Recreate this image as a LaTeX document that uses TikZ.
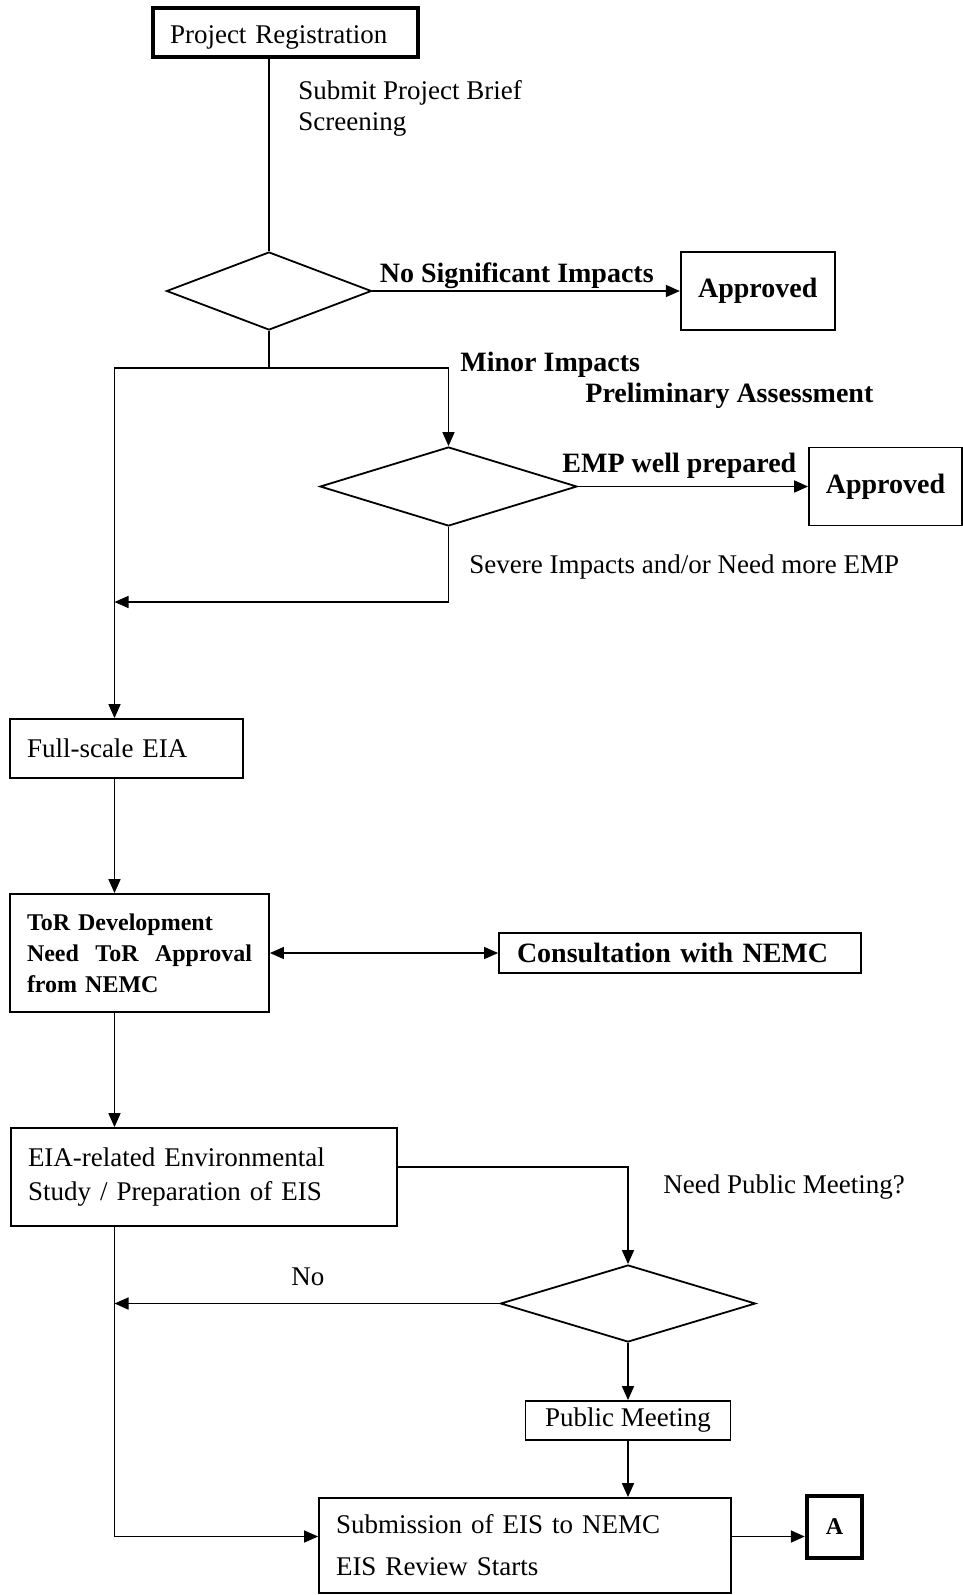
\documentclass[tikz,border=0pt]{standalone}
\usepackage{fontspec}
\setmainfont{Liberation Serif}
\usetikzlibrary{arrows.meta,shapes.geometric}

\begin{document}
\begin{tikzpicture}[x=0.5pt, y=-0.5pt,
    lbl/.style={inner sep=0pt, font=\fontsize{13.5}{15.5}\selectfont},
    lblb/.style={inner sep=0pt, font=\fontsize{14}{15.5}\selectfont\bfseries},
    box/.style={draw, line width=0.9pt, inner sep=0pt, font=\fontsize{13.5}{15.5}\selectfont},
    boldbox/.style={box, font=\fontsize{14}{15.5}\selectfont\bfseries},
    leftbox/.style={box, align=left, inner xsep=8.5pt},
    dec/.style={draw, diamond, line width=0.9pt, inner sep=0pt},
    line/.style={line width=0.8pt},
    arr/.style={line, -{Triangle[length=7pt,width=6pt]}},
    dbl/.style={line, {Triangle[length=7pt,width=6pt]}-{Triangle[length=7pt,width=6pt]}}]
    \useasboundingbox (0,0) rectangle (963,1595);

    \node[leftbox, line width=1.6pt, text width=115.5pt, text height=11pt, text depth=0pt, minimum height=24.5pt] (reg) at (285.5,32.5) {Project Registration};
    \node[dec, minimum width=102.5pt, minimum height=39pt] (screen) at (269,291) {};
    \node[boldbox, minimum width=77pt, minimum height=39pt] (ok1) at (757.75,291) {Approved};
    \node[dec, minimum width=128.5pt, minimum height=39.5pt] (prelim) at (448.5,486.5) {};
    \node[boldbox, minimum width=76.5pt, minimum height=39pt] (ok2) at (885.5,486.5) {Approved};
    \node[leftbox, text width=99.5pt, minimum height=29.5pt] (full) at (126.5,748.5) {Full-scale EIA};
    \node[leftbox, font=\fontsize{12}{15.5}\selectfont\bfseries, text width=112.5pt, minimum height=59pt] (tor) at (139.5,953) {ToR Development\\Need\hfill ToR\hfill Approval\\from NEMC};
    \node[leftbox, font=\fontsize{14}{15.5}\selectfont\bfseries, inner xsep=9pt, text width=163pt, minimum height=20pt] (consult) at (680,953) {Consultation with NEMC};
    \node[leftbox, font=\fontsize{13.5}{17}\selectfont, text width=176pt, minimum height=49pt] (study) at (204,1177) {EIA-related Environmental\\Study / Preparation of EIS};
    \node[dec, minimum width=127.5pt, minimum height=38.5pt] (meet) at (628,1303.5) {};
    \node[box, minimum width=102.5pt, minimum height=19.5pt] (pub) at (628,1420.5) {Public Meeting};
    \node[leftbox, font=\fontsize{13.5}{21}\selectfont, text width=189pt, minimum height=47.5pt] (submit) at (525,1545.5) {Submission of EIS to NEMC\\EIS Review Starts};
    \node[draw, line width=2.2pt, inner sep=0pt, font=\fontsize{12}{14}\selectfont\bfseries, minimum width=27.5pt, minimum height=31pt] (sq) at (834.5,1527) {A};

    \node[lbl, anchor=west, align=left] (brief) at (298,108) {Submit Project Brief\\Screening};
    \node[lblb, anchor=base west] (nosig) at (379.5,282) {No Significant Impacts};
    \node[lblb, anchor=base west] (minor) at (460,371.5) {Minor Impacts};
    \node[lblb, anchor=base west] (pretxt) at (585,402.5) {Preliminary Assessment};
    \node[lblb, anchor=base west] (emp) at (562,472.5) {EMP well prepared};
    \node[lbl, anchor=base west] (severe) at (469,573) {Severe Impacts and/or Need more EMP};
    \node[lbl, anchor=base west] (needpm) at (663,1193) {Need Public Meeting?};
    \node[lbl, anchor=base west] (no) at (291,1285) {No};

    \coordinate (fork) at (269,368);
    \coordinate (trunk) at (114.5,368);
    \coordinate (back) at (114.5,602);
    \coordinate (noback) at (114.5,1303.5);

    \draw[line] (reg.south -| screen.north) -- (screen.north);
    \draw[arr] (screen.east) -- (ok1.west);
    \draw[line] (screen.south) -- (fork);
    \draw[arr] (fork) -| (prelim.north);
    \draw[arr] (fork) -- (trunk) -- (trunk |- full.north);
    \draw[arr] (prelim.east) -- (ok2.west);
    \draw[arr] (prelim.south) |- (back);
    \draw[arr] (trunk |- full.south) -- (trunk |- tor.north);
    \draw[dbl] (tor) -- (consult);
    \draw[arr] (trunk |- tor.south) -- (trunk |- study.north);
    \draw[arr] ([yshift=5pt]study.east) -| (meet.north);
    \draw[arr] (meet.west) -- (noback);
    \draw[arr] (meet.south) -- (pub.north);
    \draw[arr] (pub.south) -- (pub.south |- submit.north);
    \draw[arr] (trunk |- study.south) |- ([yshift=4.5pt]submit.west);
    \draw[arr] ([yshift=4.5pt]submit.east) -- ([yshift=4.5pt]submit.east -| sq.west);
\end{tikzpicture}
\end{document}
